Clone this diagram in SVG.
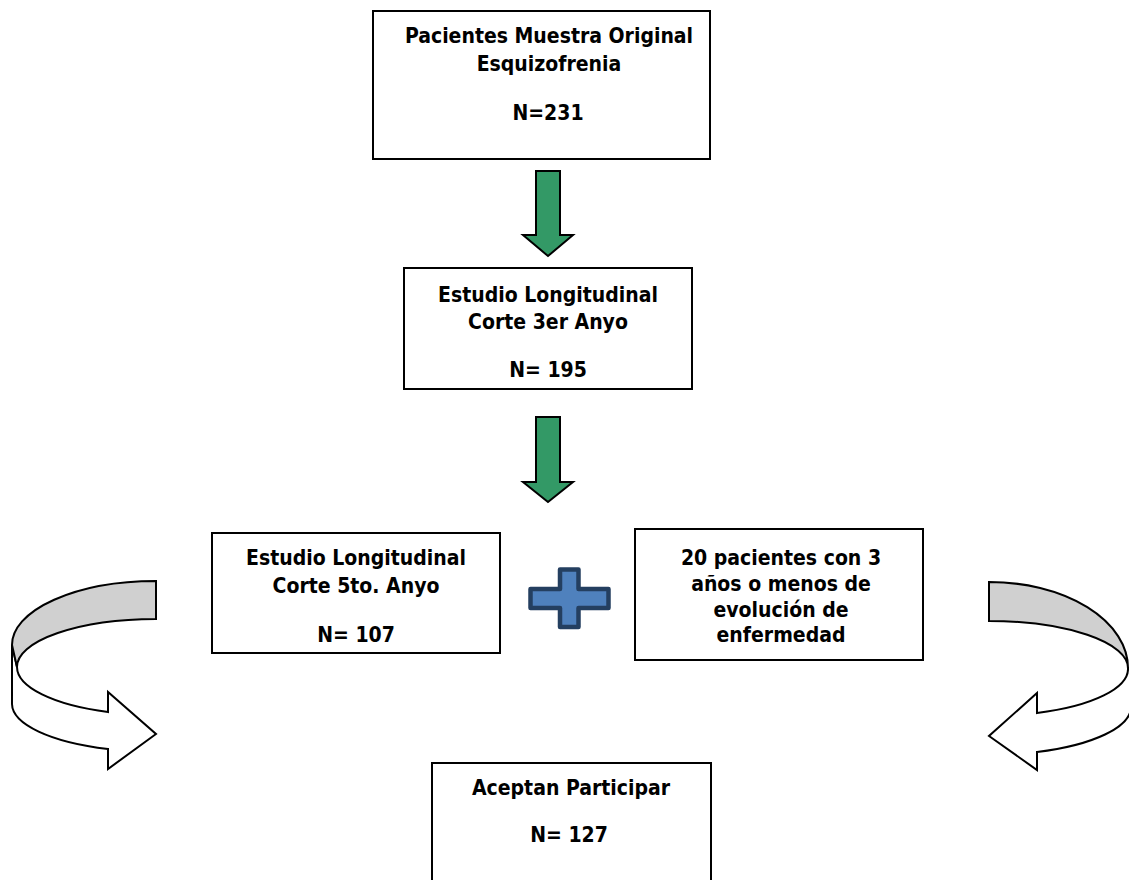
<svg xmlns="http://www.w3.org/2000/svg" width="1129" height="880" viewBox="0 0 1129 880">
<style>
.box{fill:#ffffff;stroke:#000000;stroke-width:2}
.t{font-family:"DejaVu Sans Condensed","DejaVu Sans",Verdana,sans-serif;font-stretch:condensed;font-weight:bold;font-size:21px;fill:#000000;text-anchor:middle}
.garrow{fill:#339966;stroke:#000000;stroke-width:2;stroke-linejoin:miter}
.band{stroke:#000000;stroke-width:2;stroke-linejoin:miter}
.plus{fill:#4f81bd;stroke:#243f60;stroke-width:4.5;stroke-linejoin:round}
</style>
<rect width="1129" height="880" fill="#ffffff"/>
<g id="connectors">
  <path class="garrow" d="M536,171 L560,171 L560,235 L573,235 L548,256 L523,235 L536,235 Z"/>
  <path class="garrow" d="M536,417 L560,417 L560,482 L573,482 L548,502 L523,482 L536,482 Z"/>
  <g id="plus">
    <path class="plus" d="M560,569.5 L578.5,569.5 L578.5,589 L608.5,589 L608.5,608 L578.5,608 L578.5,627 L560,627 L560,608 L530.5,608 L530.5,589 L560,589 Z"/>
  </g>
  <g id="left-curved-arrow">
    <path class="band" fill="#ffffff" d="M17,667 A139 48 0 0 0 108,712 L108,692 L156,734 L108,769 L108,749 A144 48 0 0 1 12,704 L12,645 Z"/>
    <path class="band" fill="#d0d0d0" d="M156,581 A144 64 0 0 0 12,645 L17,667 A139 48 0 0 1 156,619 Z"/>
  </g>
  <g id="right-curved-arrow">
    <path class="band" fill="#ffffff" d="M1128,668 A139 47 0 0 1 1037,713 L1037,693 L989,736 L1037,770 L1037,752 A142 48 0 0 0 1131,707 L1131,668 Z"/>
    <path class="band" fill="#d0d0d0" d="M989,582 A139 86 0 0 1 1128,668 A139 47 0 0 0 989,621 Z"/>
  </g>
</g>
<g id="node1">
  <rect class="box" x="373" y="11" width="337" height="148"/>
  <text class="t" x="549" y="43">Pacientes Muestra Original</text>
  <text class="t" x="549" y="71">Esquizofrenia</text>
  <text class="t" x="548" y="120">N=231</text>
</g>
<g id="node2">
  <rect class="box" x="404" y="268" width="288" height="121"/>
  <text class="t" x="548" y="301.5">Estudio Longitudinal</text>
  <text class="t" x="548" y="328.5">Corte 3er Anyo</text>
  <text class="t" x="548" y="377">N= 195</text>
</g>
<g id="node3">
  <rect class="box" x="212" y="533" width="288" height="120"/>
  <text class="t" x="356" y="565">Estudio Longitudinal</text>
  <text class="t" x="356" y="592.5">Corte 5to. Anyo</text>
  <text class="t" x="356" y="641.5">N= 107</text>
</g>
<g id="node4">
  <rect class="box" x="635" y="529" width="288" height="131"/>
  <text class="t" x="781" y="565">20 pacientes con 3</text>
  <text class="t" x="781" y="591">años o menos de</text>
  <text class="t" x="781" y="617">evolución de</text>
  <text class="t" x="781" y="642">enfermedad</text>
</g>
<g id="node5">
  <rect class="box" x="432" y="763" width="279" height="130"/>
  <text class="t" x="571" y="795">Aceptan Participar</text>
  <text class="t" x="569" y="842">N= 127</text>
</g>
</svg>
